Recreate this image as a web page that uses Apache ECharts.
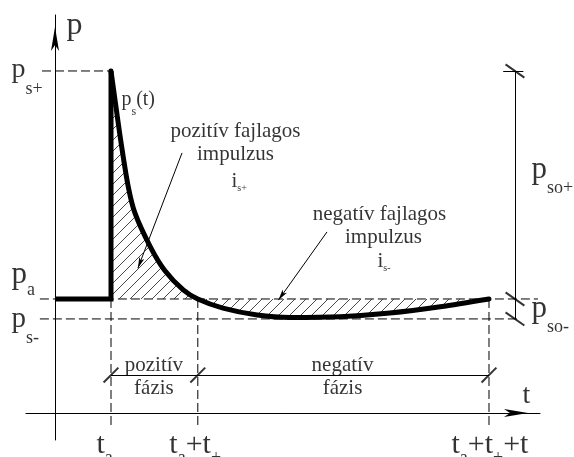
<!DOCTYPE html>
<html>
<head>
<meta charset="utf-8">
<script src="https://cdn.jsdelivr.net/npm/echarts@6/dist/echarts.min.js"></script>
<style>
  html, body { margin: 0; padding: 0; background: #fff; }
  #chart { width: 574px; height: 457px; }
</style>
</head>
<body>
<div id="chart"></div>
<script>
// Characteristic times (arbitrary units): arrival time, positive and negative phase durations
const T_A = 1.0;
const T_POS = 1.55;
const T_NEG = 5.2;

// Pressure levels (arbitrary units): ambient, peak overpressure, lowest underpressure
const P_A = 1.0;
const P_S_PLUS = 3.0;
const P_S_MINUS = 0.825;

// Pressure history p_s(t) from the arrival of the shock front
const curveT = [1.00, 1.09, 1.18, 1.31, 1.43, 1.70, 1.96, 2.29, 2.55, 3.00, 3.61, 4.20, 5.09, 5.98, 6.88, 7.75];
const curveP = [3.00, 2.68, 2.37, 1.98, 1.75, 1.46, 1.25, 1.08, 1.00, 0.92, 0.86, 0.838, 0.845, 0.877, 0.932, 1.00];

// Axis labels: [text, isSubscript] pieces
const timeTickLabels = [
  [['t', 0], ['a', 1]],
  [['t', 0], ['a', 1], ['+', 0], ['t', 0], ['+', 1]],
  [['t', 0], ['a', 1], ['+', 0], ['t', 0], ['+', 1], ['+', 0], ['t', 0], ['-', 1]]
];
const pressureLabels = [
  [['p', 0], ['s+', 1]],
  [['p', 0], ['a', 1]],
  [['p', 0], ['s-', 1]]
];

const T_POS_END = T_A + T_POS;
const T_END = T_A + T_POS + T_NEG;

// Visible window of both axes
const X_MIN = -0.518, X_MAX = 8.661;
const Y_MIN = -0.237, Y_MAX = 3.491;

// Level of the phase dimension line and position of the pressure dimension line
const PHASE_P = 0.333;
const DIM_T = 8.214;

const FONT = 'Liberation Serif';
const INK = '#000';

// Diagonal hatching used for the specific impulse areas
function hatchPattern() {
  const s = 11;
  const c = document.createElement('canvas');
  c.width = s; c.height = s;
  const ctx = c.getContext('2d');
  ctx.strokeStyle = '#333';
  ctx.lineWidth = 0.9;
  ctx.beginPath();
  ctx.moveTo(0, s); ctx.lineTo(s, 0);
  ctx.moveTo(-1, 1); ctx.lineTo(1, -1);
  ctx.moveTo(s - 1, s + 1); ctx.lineTo(s + 1, s - 1);
  ctx.stroke();
  return c;
}

// Rich text with subscripts; drop = distance between main and subscript baselines
function richText(segs, S, s, drop) {
  s = s || 18;
  drop = drop || 0;
  const pad = Math.max(0, Math.round(2 * (drop - 0.34 * s + 0.34 * S)));
  return {
    formatter: segs.map(([txt, sub]) => '{' + (sub ? 's' : 'm') + '|' + txt + '}').join(''),
    rich: {
      m: { fontSize: S, lineHeight: S, fontFamily: FONT, color: INK },
      s: { fontSize: s, lineHeight: s, fontFamily: FONT, color: INK, padding: [pad, 0, 0, 0] }
    }
  };
}

function note(t, p, segs, align, S, s, drop) {
  const r = richText(segs, S, s, drop);
  return {
    value: [t, p],
    label: {
      show: true,
      position: [0, 0],
      align: align,
      verticalAlign: 'middle',
      fontFamily: FONT,
      formatter: r.formatter,
      rich: r.rich
    }
  };
}

const TEXT_SIZE = 21;
const notes = [
  note(0.214, 3.395, [['p', 0]], 'left', 32),
  note(8.357, 0.145, [['t', 0]], 'left', 28),
  note(-0.768, P_S_PLUS + 0.005, pressureLabels[0], 'left', 28, 18, 16),
  note(-0.768, P_A + 0.204, pressureLabels[1], 'left', 31, 18, 11),
  note(-0.768, P_S_MINUS - 0.01, pressureLabels[2], 'left', 29, 18, 15),
  note(T_A - 0.25, -0.29, timeTickLabels[0], 'left', 30, 18, 9),
  note(T_POS_END - 0.5, -0.29, timeTickLabels[1], 'left', 30, 18, 9),
  note(T_END - 0.661, -0.29, timeTickLabels[2], 'left', 30, 18, 9),
  note(1.196, 2.74, [['p', 0], ['s', 1], ['(t)', 0]], 'left', 20, 12, 9),
  note(3.232, 2.468, [['pozitív fajlagos', 0]], 'center', TEXT_SIZE),
  note(3.232, 2.266, [['impulzus', 0]], 'center', TEXT_SIZE),
  note(3.161, 2.025, [['i', 0], ['s+', 1]], 'left', TEXT_SIZE, 10, 3),
  note(5.804, 1.74, [['negatív fajlagos', 0]], 'center', TEXT_SIZE),
  note(5.875, 1.538, [['impulzus', 0]], 'center', TEXT_SIZE),
  note(5.768, 1.325, [['i', 0], ['s-', 1]], 'left', TEXT_SIZE, 10, 3),
  note((T_A + T_POS_END) / 2, 0.415, [['pozitív', 0]], 'center', TEXT_SIZE),
  note((T_A + T_POS_END) / 2, 0.213, [['fázis', 0]], 'center', TEXT_SIZE),
  note(5.143, 0.415, [['negatív', 0]], 'center', TEXT_SIZE),
  note(5.143, 0.213, [['fázis', 0]], 'center', TEXT_SIZE),
  note(8.518, 2.125, [['p', 0], ['so+', 1]], 'left', 31, 18, 14),
  note(8.518, P_S_MINUS + 0.08, [['p', 0], ['so-', 1]], 'left', 31, 18, 13)
];

function dashed(points) {
  return {
    type: 'line', data: points, showSymbol: false, silent: true, animation: false,
    lineStyle: { color: INK, width: 1, type: [9, 4] }, z: 2
  };
}

function segments(list, extra) {
  return Object.assign({
    type: 'lines', coordinateSystem: 'cartesian2d', silent: true, animation: false,
    lineStyle: { color: INK, width: 1, opacity: 1, curveness: 0 },
    symbol: 'none',
    data: list.map(c => ({ coords: c })), z: 3
  }, extra || {});
}

const chart = echarts.init(document.getElementById('chart'), null, { renderer: 'canvas' });

const axisBase = {
  type: 'value',
  axisTick: { show: false },
  axisLabel: { show: false },
  splitLine: { show: false }
};

chart.setOption({
  animation: false,
  backgroundColor: '#fff',
  textStyle: { fontFamily: FONT },
  grid: { left: 26, right: 34, top: 15, bottom: 17, containLabel: false },
  xAxis: Object.assign({}, axisBase, {
    min: X_MIN, max: X_MAX,
    axisLine: {
      show: true, onZero: true,
      symbol: ['none', 'arrow'], symbolSize: [6, 24], symbolOffset: [0, -12],
      lineStyle: { color: INK, width: 1 }
    }
  }),
  yAxis: Object.assign({}, axisBase, {
    min: Y_MIN, max: Y_MAX,
    axisLine: {
      show: true, onZero: true,
      symbol: ['none', 'arrow'], symbolSize: [6, 24], symbolOffset: [0, -12],
      lineStyle: { color: INK, width: 1 }
    }
  }),
  series: [
    // reference levels and phase boundaries
    dashed([[-0.232, P_S_PLUS], [T_A, P_S_PLUS]]),
    dashed([[-0.27, P_A], [8.625, P_A]]),
    dashed([[-0.27, P_S_MINUS], [8.3, P_S_MINUS]]),
    dashed([[T_A, P_A], [T_A, -0.13]]),
    dashed([[T_POS_END, P_A], [T_POS_END, -0.13]]),
    dashed([[T_END, P_A], [T_END, -0.13]]),
    // pressure history with hatched impulse areas
    {
      type: 'line', silent: true, animation: false, showSymbol: false,
      smooth: 0.3,
      data: curveT.map((t, i) => [t, curveP[i]]),
      lineStyle: { color: INK, width: 5, cap: 'round' },
      areaStyle: { origin: P_A, color: { image: hatchPattern(), repeat: 'repeat' }, opacity: 1 },
      z: 4
    },
    {
      type: 'line', silent: true, animation: false, showSymbol: false,
      data: [[0, P_A], [T_A, P_A], [T_A, P_S_PLUS]],
      lineStyle: { color: INK, width: 5, join: 'miter' },
      z: 5
    },
    // dimension lines
    segments([
      [[T_A, PHASE_P], [T_END, PHASE_P]],
      [[DIM_T, P_S_PLUS], [DIM_T, P_S_MINUS]],
      [[DIM_T - 0.21, P_S_PLUS], [DIM_T + 0.15, P_S_PLUS]]
    ]),
    // leaders to the impulse areas
    segments([
      [[2.268, 2.281], [1.48, 1.27]],
      [[4.857, 1.588], [3.99, 0.99]]
    ], { symbol: ['none', 'arrow'], symbolSize: [[0, 0], [4, 11]] }),
    // dimension ticks
    {
      type: 'scatter', silent: true, animation: false, clip: false,
      symbol: 'rect', symbolSize: [2, 21], symbolRotate: -45,
      itemStyle: { color: INK },
      data: [[T_A, PHASE_P], [T_POS_END, PHASE_P], [T_END, PHASE_P]], z: 6
    },
    {
      type: 'scatter', silent: true, animation: false, clip: false,
      symbol: 'rect', symbolSize: [2, 23], symbolRotate: 55,
      itemStyle: { color: INK },
      data: [[DIM_T, P_S_PLUS], [DIM_T, P_A], [DIM_T, P_S_MINUS]], z: 6
    },
    // texts
    {
      type: 'scatter', silent: true, animation: false, clip: false,
      symbolSize: 1, itemStyle: { color: 'rgba(0,0,0,0)' },
      data: notes, z: 10
    }
  ]
});
</script>
</body>
</html>
